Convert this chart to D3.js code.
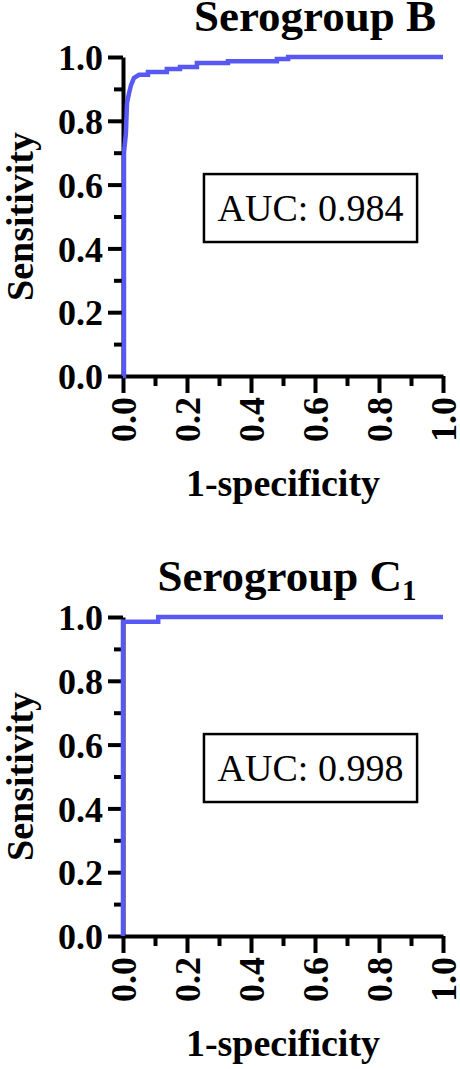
<!DOCTYPE html>
<html>
<head>
<meta charset="utf-8">
<script src="https://cdn.jsdelivr.net/npm/d3@7"></script>
<style>
  body { margin: 0; background: #fff; }
  svg { display: block; }
</style>
</head>
<body>
<svg width="460" height="1069"></svg>
<script>
// ROC curve points (1-specificity, sensitivity)
var fprB = [0, 0.003, 0.003, 0.009, 0.0125, 0.019, 0.025, 0.034, 0.05, 0.078, 0.078, 0.137, 0.137, 0.178, 0.178, 0.231, 0.231, 0.328, 0.328, 0.481, 0.481, 0.516, 0.516, 1];
var tprB = [0, 0, 0.70, 0.76, 0.856, 0.887, 0.912, 0.934, 0.944, 0.944, 0.953, 0.953, 0.962, 0.962, 0.969, 0.969, 0.981, 0.981, 0.987, 0.987, 0.994, 0.994, 1, 1];
var fprC = [0, 0, 0.11, 0.11, 1];
var tprC = [0, 0.985, 0.985, 1, 1];

var majorTicks = [0, 0.2, 0.4, 0.6, 0.8, 1.0];
var minorTicks = [0.1, 0.3, 0.5, 0.7, 0.9];
var aucLabels = ["AUC: 0.984", "AUC: 0.998"];

var panels = [
  { title: "Serogroup B", sub: null, fpr: fprB, tpr: tprB, auc: aucLabels[0], dy: 0, tx: 315 },
  { title: "Serogroup C", sub: "1", fpr: fprC, tpr: tprC, auc: aucLabels[1], dy: 560, tx: 287 }
];

var svg = d3.select("svg");
var x = d3.scaleLinear().domain([0, 1]).range([123, 443]);
var y = d3.scaleLinear().domain([0, 1]).range([376, 57]);
var fmt = d3.format(".1f");
var serif = "'Liberation Serif', 'Times New Roman', serif";

panels.forEach(function (p) {
  var g = svg.append("g").attr("transform", "translate(0," + p.dy + ")");

  // minor ticks
  g.append("g")
    .attr("transform", "translate(0," + y(0) + ")")
    .call(d3.axisBottom(x).tickValues(minorTicks).tickSize(10).tickFormat(""))
    .call(function (a) { a.select(".domain").remove(); a.selectAll("line").attr("stroke-width", 4); });
  g.append("g")
    .attr("transform", "translate(" + x(0) + ",0)")
    .call(d3.axisLeft(y).tickValues(minorTicks).tickSize(9).tickFormat(""))
    .call(function (a) { a.select(".domain").remove(); a.selectAll("line").attr("stroke-width", 4); });

  // x axis
  var xa = g.append("g")
    .attr("transform", "translate(0," + y(0) + ")")
    .call(d3.axisBottom(x).tickValues(majorTicks).tickSize(17).tickSizeOuter(0).tickFormat(fmt));
  xa.select(".domain").attr("stroke-width", 4);
  xa.selectAll("line").attr("stroke-width", 4);
  xa.selectAll("text")
    .style("font-family", serif)
    .attr("font-size", 36).attr("font-weight", "bold").attr("fill", "#000")
    .attr("transform", "rotate(-90)")
    .attr("text-anchor", "end")
    .attr("x", -21).attr("y", 0).attr("dy", "0.35em");

  // y axis
  var ya = g.append("g")
    .attr("transform", "translate(" + x(0) + ",0)")
    .call(d3.axisLeft(y).tickValues(majorTicks).tickSize(15).tickSizeOuter(0).tickFormat(fmt));
  ya.select(".domain").attr("stroke-width", 4);
  ya.selectAll("line").attr("stroke-width", 4);
  ya.selectAll("text")
    .style("font-family", serif)
    .attr("font-size", 36).attr("font-weight", "bold").attr("fill", "#000")
    .attr("x", -20).attr("dy", "0.35em");

  // ROC curve
  var pts = p.fpr.map(function (d, i) { return [d, p.tpr[i]]; });
  g.append("path")
    .datum(pts)
    .attr("fill", "none")
    .attr("stroke", "#5858f4")
    .attr("stroke-width", 4.5)
    .attr("d", d3.line().x(function (d) { return x(d[0]); }).y(function (d) { return y(d[1]); }));

  // AUC box
  g.append("rect")
    .attr("x", x(0.253)).attr("y", y(0.633))
    .attr("width", x(0.919) - x(0.253)).attr("height", y(0.42) - y(0.633))
    .attr("fill", "none").attr("stroke", "#000").attr("stroke-width", 2.5);
  g.append("text")
    .style("font-family", serif)
    .attr("x", (x(0.253) + x(0.919)) / 2).attr("y", 221)
    .attr("text-anchor", "middle").attr("font-size", 38)
    .text(p.auc);

  // title
  var t = g.append("text")
    .style("font-family", serif)
    .attr("x", p.tx).attr("y", 31)
    .attr("text-anchor", "middle").attr("font-size", 45).attr("font-weight", "bold")
    .text(p.title);
  if (p.sub) {
    t.append("tspan").attr("font-size", 29).attr("dy", 9).text(p.sub);
  }

  // axis titles
  g.append("text")
    .style("font-family", serif)
    .attr("x", (x(0) + x(1)) / 2).attr("y", 496)
    .attr("text-anchor", "middle").attr("font-size", 38).attr("font-weight", "bold")
    .text("1-specificity");
  g.append("text")
    .style("font-family", serif)
    .attr("transform", "translate(33," + (y(0) + y(1)) / 2 + ") rotate(-90)")
    .attr("text-anchor", "middle").attr("font-size", 38).attr("font-weight", "bold")
    .text("Sensitivity");
});
</script>
</body>
</html>
